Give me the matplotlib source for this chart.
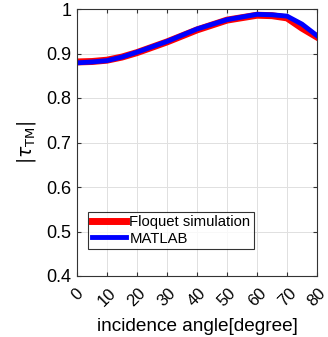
import matplotlib.pyplot as plt

# incidence angle (degree) and |tau_TM|
angle = [0, 5, 10, 15, 20, 30, 40, 50, 60, 65, 70, 75, 80]
floquet = [0.881, 0.882, 0.885, 0.892, 0.902, 0.926, 0.953, 0.975, 0.986, 0.985, 0.980, 0.957, 0.937]
matlab = [0.879, 0.881, 0.884, 0.892, 0.903, 0.927, 0.955, 0.976, 0.988, 0.987, 0.984, 0.966, 0.940]

xticks = [0, 10, 20, 30, 40, 50, 60, 70, 80]
yticks = [0.4, 0.5, 0.6, 0.7, 0.8, 0.9, 1.0]
yticklabels = ["0.4", "0.5", "0.6", "0.7", "0.8", "0.9", "1"]

plt.rcParams["font.family"] = ["Liberation Sans", "DejaVu Sans"]

f = plt.figure(figsize=(3.28, 3.37), dpi=100)
ax = f.add_axes([77 / 328, 1 - 276 / 337, 240 / 328, 267 / 337])
ax.plot(angle, floquet, color="red", linewidth=5, label="Floquet simulation")
ax.plot(angle, matlab, color="blue", linewidth=3.5, label="MATLAB")
ax.set_xlim(0, 80)
ax.set_ylim(0.4, 1.0)
ax.set_xticks(xticks)
ax.set_xticklabels([str(t) for t in xticks], rotation=45, fontsize=12,
                   ha="center", va="top", rotation_mode="default")
ax.set_yticks(yticks)
ax.set_yticklabels(yticklabels, fontsize=13)
ax.grid(True, color="#e0e0e0", linewidth=0.7)
ax.tick_params(direction="in", top=True, right=True, length=3, color="#333333")
ax.tick_params(axis="x", pad=7)
ax.tick_params(axis="y", pad=4)
for s in ax.spines.values():
    s.set_color("#333333")
    s.set_linewidth(0.8)
ax.set_xlabel("incidence angle[degree]", fontsize=13.7, labelpad=6)
ax.set_ylabel(r"$|\tau_{\rm TM}|$", fontsize=13.5, labelpad=6)
leg = ax.legend(loc="lower left", bbox_to_anchor=(0.045, 0.1), fontsize=10.7,
                frameon=True, fancybox=False, edgecolor="black", handlelength=2.3,
                borderpad=0.25, labelspacing=0.15, handletextpad=0.25, borderaxespad=0)
leg.get_frame().set_linewidth(0.8)
f.savefig("out.png", dpi=100)
